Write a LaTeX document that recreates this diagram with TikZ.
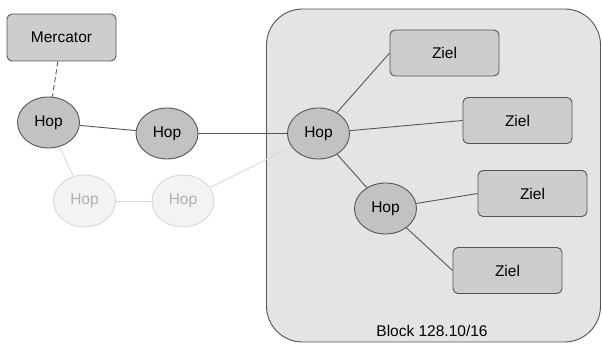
\documentclass[tikz,border=0pt]{standalone}
\usepackage{fontspec}
\setmainfont{Liberation Sans}
\usetikzlibrary{shapes.geometric}
\definecolor{edgegray}{HTML}{555555}
\definecolor{hopfill}{HTML}{C2C2C2}
\definecolor{boxfill}{HTML}{CDCDCD}
\definecolor{blockfill}{HTML}{E4E4E4}
\definecolor{fadefill}{HTML}{F3F3F3}
\definecolor{fadeline}{HTML}{D8D8D8}
\definecolor{fadetext}{HTML}{B0B0B0}
\tikzset{
  labelfont/.style={font=\fontsize{15.5}{18}\selectfont},
  hop/.style={ellipse, draw=edgegray, fill=hopfill, line width=0.9pt,
    minimum width=62pt, minimum height=51pt, inner sep=0pt, labelfont},
  fadehop/.style={ellipse, draw=fadeline, fill=fadefill, line width=0.9pt,
    minimum width=62pt, minimum height=52pt, inner sep=0pt, text=fadetext,
    labelfont},
  target/.style={rectangle, rounded corners=5pt, draw=edgegray, fill=boxfill,
    line width=0.9pt, minimum width=109pt, minimum height=46pt, inner sep=0pt,
    labelfont},
  link/.style={draw=edgegray, line width=0.9pt},
  fadelink/.style={draw=fadeline, line width=0.9pt},
}
\begin{document}
\begin{tikzpicture}[x=1pt, y=-1pt]
  \useasboundingbox (0,0) rectangle (602,344);
  % address block
  \node (block) [draw=edgegray, fill=blockfill, rounded corners=36pt, line width=0.9pt,
    minimum width=334pt, minimum height=333pt, inner sep=0pt] at (433.5,175.5) {};
  \node (blocklabel) [font=\fontsize{15.5}{18}\selectfont] at (432,331) {Block 128.10/16};

  % path to the block
  \node (merc) [target, minimum height=47pt] at (61.5,37.5) {Mercator};
  \node (h1) [hop] at (48.5,122.5) {Hop};
  \node (h2) [hop] at (167,133.5) {Hop};
  \node (hc) [hop] at (318.5,133.5) {Hop};
  \node (h5) [hop] at (385.5,208.5) {Hop};

  % alternative, unused route
  \node (f1) [fadehop] at (84.5,201) {Hop};
  \node (f2) [fadehop] at (183,201) {Hop};

  % targets inside the block
  \node (z1) [target] at (444.5,53) {Ziel};
  \node (z2) [target] at (517.5,120.5) {Ziel};
  \node (z3) [target] at (532.5,193.5) {Ziel};
  \node (z4) [target] at (507.5,270.5) {Ziel};

  % connectors
  \draw [fadelink] (h1) -- (f1);
  \draw [fadelink] (f1) -- (f2);
  \draw [fadelink] (f2) -- (hc);
  \draw [link, dash pattern=on 5pt off 3pt] (merc) -- (h1);
  \draw [link] (h1) -- (h2);
  \draw [link] (h2) -- (hc);
  \draw [link] (hc) -- (z1.west);
  \draw [link] (hc) -- (z2.west);
  \draw [link] (hc) -- (h5);
  \draw [link] (h5) -- (z3.west);
  \draw [link] (h5) -- (z4.west);
\end{tikzpicture}
\end{document}
